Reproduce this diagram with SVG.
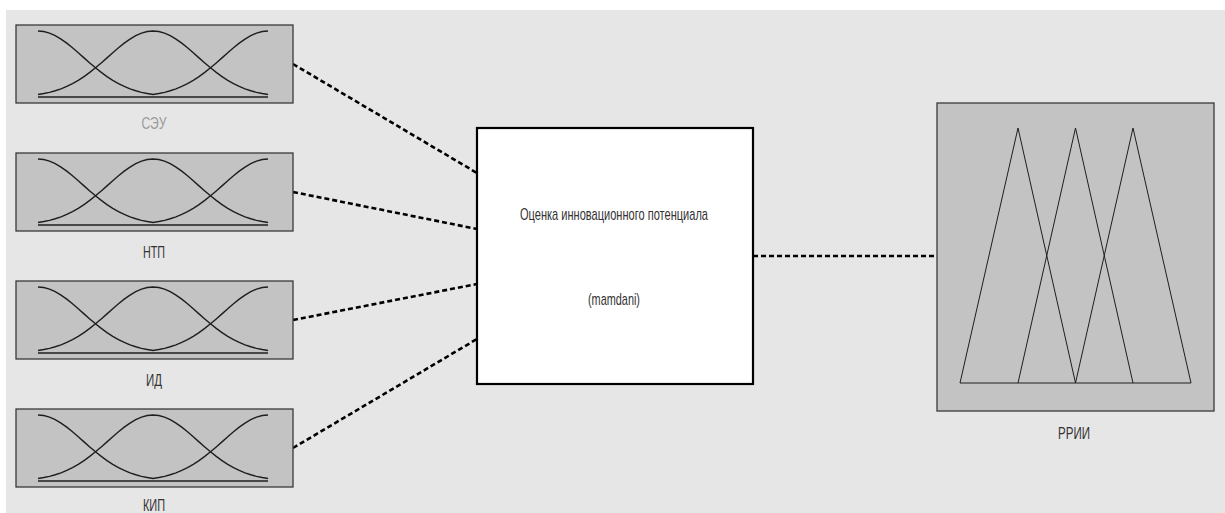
<svg xmlns="http://www.w3.org/2000/svg" xmlns:xlink="http://www.w3.org/1999/xlink" width="1225" height="513" viewBox="0 0 1225 513">
<style>
.bg{fill:#e6e6e6}
.mfbox{fill:#c3c3c3;stroke:#3a3a3a;stroke-width:1.3}
.mf{fill:none;stroke:#1e1e1e;stroke-width:1.4}
.tri{fill:none;stroke:#1e1e1e;stroke-width:1}
.conn{fill:none;stroke:#000;stroke-width:2.6;stroke-dasharray:5 3}
.lbl{font-family:"Liberation Sans",Arial,sans-serif;font-size:16px;fill:#333;text-anchor:middle}
.lbl.dim{fill:#9a9a9a}
.main{font-family:"Liberation Sans",Arial,sans-serif;font-size:17px;fill:#333;text-anchor:middle}
</style>
<defs>
<g id="mfset">
<polyline class="mf" points="22,6 27.75,6.54 33.5,8.12 39.25,10.67 45,14.08 50.75,18.18 56.5,22.8 62.25,27.76 68,32.86 73.75,37.93 79.5,42.83 85.25,47.42 91,51.63 96.75,55.39 102.5,58.67 108.25,61.48 114,63.84 119.75,65.76 125.5,67.31 131.25,68.53 137,69.48"/>
<polyline class="mf" points="22,69.48 27.75,68.53 33.5,67.31 39.25,65.76 45,63.84 50.75,61.48 56.5,58.67 62.25,55.39 68,51.63 73.75,47.42 79.5,42.83 85.25,37.93 91,32.86 96.75,27.76 102.5,22.8 108.25,18.18 114,14.08 119.75,10.67 125.5,8.12 131.25,6.54 137,6 142.75,6.54 148.5,8.12 154.25,10.67 160,14.08 165.75,18.18 171.5,22.8 177.25,27.76 183,32.86 188.75,37.93 194.5,42.83 200.25,47.42 206,51.63 211.75,55.39 217.5,58.67 223.25,61.48 229,63.84 234.75,65.76 240.5,67.31 246.25,68.53 252,69.48"/>
<polyline class="mf" points="137,69.48 142.75,68.53 148.5,67.31 154.25,65.76 160,63.84 165.75,61.48 171.5,58.67 177.25,55.39 183,51.63 188.75,47.42 194.5,42.83 200.25,37.93 206,32.86 211.75,27.76 217.5,22.8 223.25,18.18 229,14.08 234.75,10.67 240.5,8.12 246.25,6.54 252,6"/>
<line class="mf" x1="22" y1="72" x2="252" y2="72"/>
</g>
</defs>
<rect x="0" y="0" width="1225" height="513" fill="#ffffff"/>
<rect class="bg" x="6" y="10" width="1219" height="503"/>

<g id="connectors">
<line class="conn" x1="293" y1="64" x2="477" y2="173"/>
<line class="conn" x1="293" y1="192" x2="477" y2="229"/>
<line class="conn" x1="293" y1="320" x2="477" y2="284"/>
<line class="conn" x1="293" y1="448" x2="477" y2="339"/>
<line class="conn" x1="753" y1="256" x2="937" y2="256"/>
</g>

<g id="input-SEU">
<rect class="mfbox" x="16" y="25" width="277" height="78"/>
<use xlink:href="#mfset" transform="translate(16,25)"/>
<text class="lbl dim" x="154" y="129" textLength="25" lengthAdjust="spacingAndGlyphs">СЭУ</text>
</g>
<g id="input-NTP">
<rect class="mfbox" x="16" y="153" width="277" height="78"/>
<use xlink:href="#mfset" transform="translate(16,153)"/>
<text class="lbl" x="154" y="258" textLength="22" lengthAdjust="spacingAndGlyphs">НТП</text>
</g>
<g id="input-ID">
<rect class="mfbox" x="16" y="281" width="277" height="78"/>
<use xlink:href="#mfset" transform="translate(16,281)"/>
<text class="lbl" x="154" y="386" textLength="16" lengthAdjust="spacingAndGlyphs">ИД</text>
</g>
<g id="input-KIP">
<rect class="mfbox" x="16" y="409" width="277" height="78"/>
<use xlink:href="#mfset" transform="translate(16,409)"/>
<text class="lbl" x="154" y="511" textLength="22" lengthAdjust="spacingAndGlyphs">КИП</text>
</g>

<g id="fis">
<rect x="477" y="128" width="276" height="256" fill="#ffffff" stroke="#000" stroke-width="2.2"/>
<text class="main" x="614" y="220" textLength="188" lengthAdjust="spacingAndGlyphs">Оценка инновационного потенциала</text>
<text class="main" x="614" y="305" textLength="52" lengthAdjust="spacingAndGlyphs">(mamdani)</text>
</g>

<g id="output-RRII">
<rect class="mfbox" x="937" y="103" width="277" height="308"/>
<polyline class="tri" points="960,383 1018,128 1075.5,383"/>
<polyline class="tri" points="1018,383 1075.5,128 1133,383"/>
<polyline class="tri" points="1075.5,383 1133,128 1191,383"/>
<line class="tri" x1="960" y1="383" x2="1191" y2="383" stroke-width="1.4"/>
<text class="lbl" x="1074" y="439" textLength="32" lengthAdjust="spacingAndGlyphs">РРИИ</text>
</g>
</svg>
